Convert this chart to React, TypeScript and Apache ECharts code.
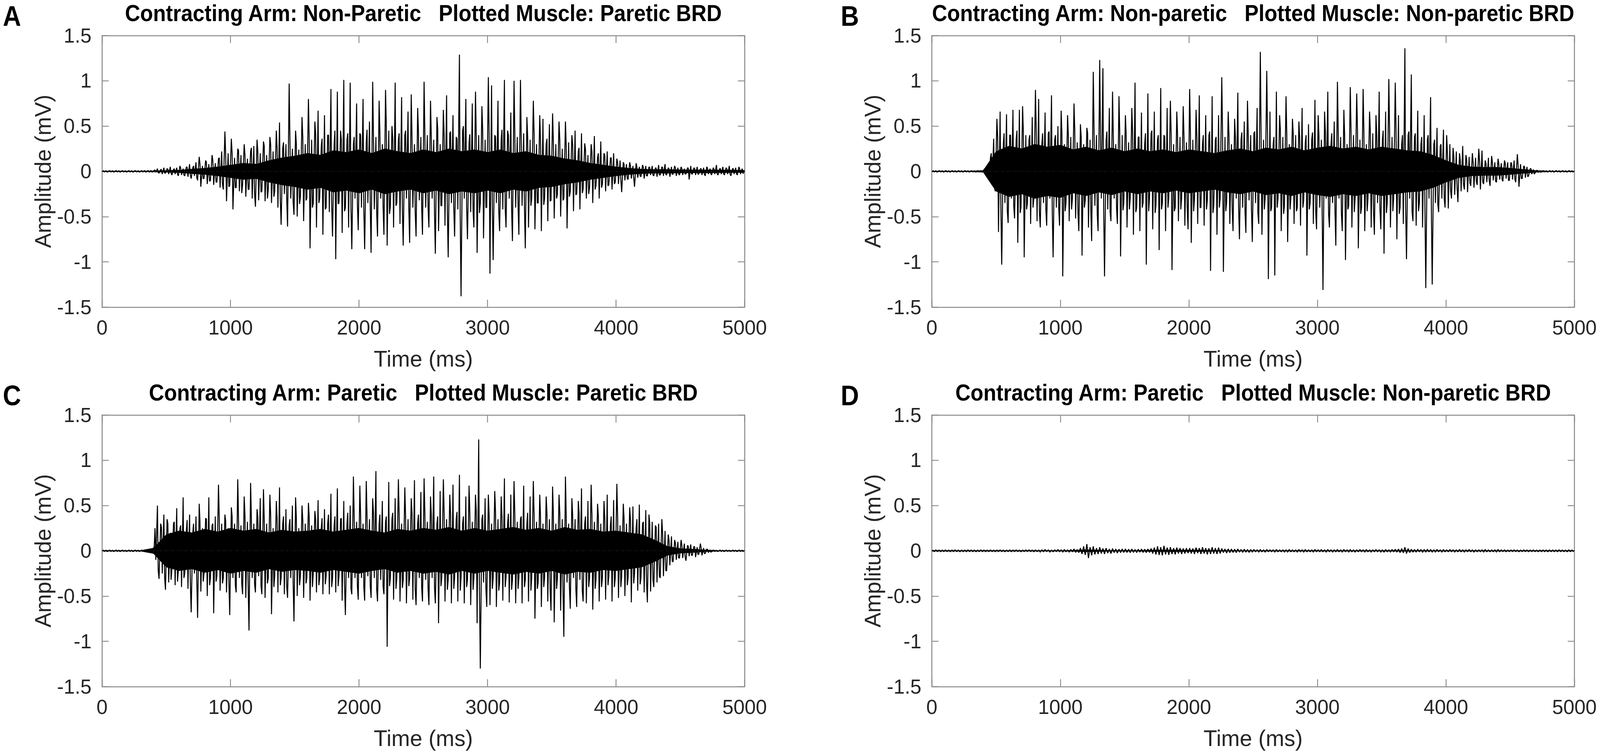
import React, { useEffect, useRef } from "react";
import * as echarts from "echarts";

// ---------------- DATA ----------------
// Primary spikes: largest positive / negative excursion in each 25 ms bin (200 bins, 0..4975 ms), mV
const BIN_MS = 25;
// Secondary spikes: a further (smaller) excursion in each 50 ms bin (100 bins), mV
const SEC_MS = 50;
// Dense-core amplitude every 100 ms (0..5000 ms), mV
const CORE_MS = 100;

const TITLES = [
  "Contracting Arm: Non-Paretic   Plotted Muscle: Paretic BRD",
  "Contracting Arm: Non-paretic   Plotted Muscle: Non-paretic BRD",
  "Contracting Arm: Paretic   Plotted Muscle: Paretic BRD",
  "Contracting Arm: Paretic   Plotted Muscle: Non-paretic BRD",
];
const LETTERS = ["A", "B", "C", "D"];
const X_NAME = "Time (ms)";
const Y_NAME = "Amplitude (mV)";

const A_UP = [
  0.008,0.008,0.008,0.008,0.008,0.008,0.008,0.008,0.008,0.008,
  0.008,0.008,0.008,0.010,0.008,0.010,0.012,0.030,0.020,0.040,
  0.030,0.050,0.020,0.040,0.060,0.030,0.050,0.080,0.040,0.100,
  0.160,0.060,0.120,0.080,0.180,0.090,0.140,0.220,0.440,0.200,
  0.360,0.150,0.250,0.180,0.300,0.140,0.220,0.280,0.350,0.200,
  0.330,0.180,0.380,0.220,0.450,0.540,0.260,0.300,0.970,0.250,
  0.450,0.240,0.600,0.300,0.800,0.350,0.550,0.670,0.280,0.620,
  0.400,0.910,0.300,0.880,0.450,1.010,0.350,0.980,0.300,0.750,
  0.420,0.800,0.320,0.550,0.990,0.380,0.780,0.300,0.900,0.450,
  0.500,0.980,0.350,0.820,0.400,0.660,0.850,0.300,0.700,0.380,
  0.990,0.400,0.780,0.350,0.600,0.300,0.680,0.840,0.420,0.620,
  0.380,1.290,0.450,0.800,0.320,0.750,0.880,0.400,0.720,0.350,
  1.040,0.950,0.400,0.780,0.350,1.010,0.450,0.650,1.000,0.380,
  1.010,0.420,0.600,0.350,0.780,0.300,0.620,0.580,0.300,0.520,
  0.640,0.300,0.550,0.250,0.550,0.320,0.400,0.450,0.220,0.420,
  0.310,0.180,0.300,0.390,0.150,0.330,0.200,0.220,0.150,0.200,
  0.140,0.120,0.100,0.080,0.100,0.060,0.090,0.050,0.070,0.060,
  0.050,0.060,0.040,0.070,0.050,0.080,0.040,0.050,0.060,0.040,
  0.050,0.030,0.040,0.060,0.040,0.050,0.030,0.040,0.050,0.030,
  0.040,0.070,0.030,0.050,0.040,0.060,0.030,0.040,0.050,0.030,
];
const A_DOWN = [
  -0.008,-0.008,-0.008,-0.008,-0.008,-0.008,-0.008,-0.008,-0.008,-0.008,
  -0.008,-0.008,-0.008,-0.008,-0.010,-0.008,-0.010,-0.020,-0.030,-0.020,
  -0.030,-0.040,-0.030,-0.050,-0.040,-0.050,-0.060,-0.080,-0.050,-0.100,
  -0.170,-0.080,-0.140,-0.100,-0.150,-0.120,-0.180,-0.200,-0.330,-0.160,
  -0.420,-0.180,-0.220,-0.150,-0.280,-0.200,-0.300,-0.390,-0.320,-0.220,
  -0.330,-0.200,-0.350,-0.220,-0.400,-0.590,-0.250,-0.610,-0.300,-0.480,
  -0.500,-0.280,-0.550,-0.300,-0.850,-0.350,-0.620,-0.300,-0.700,-0.400,
  -0.450,-0.720,-0.970,-0.350,-0.680,-0.400,-0.620,-0.860,-0.300,-0.650,
  -0.400,-0.860,-0.350,-0.900,-0.420,-0.720,-0.300,-0.700,-0.820,-0.380,
  -0.620,-0.350,-0.580,-0.820,-0.300,-0.790,-0.400,-0.720,-0.320,-0.700,
  -0.400,-0.620,-0.300,-0.910,-0.660,-0.380,-0.600,-0.950,-0.350,-0.720,
  -0.420,-1.380,-0.300,-0.750,-0.450,-0.620,-0.900,-0.350,-0.740,-0.400,
  -1.130,-0.980,-0.350,-0.660,-0.420,-0.620,-0.300,-0.770,-0.400,-0.700,
  -0.380,-0.850,-0.620,-0.300,-0.640,-0.350,-0.660,-0.300,-0.550,-0.320,
  -0.520,-0.250,-0.500,-0.300,-0.630,-0.220,-0.440,-0.250,-0.420,-0.200,
  -0.300,-0.180,-0.350,-0.160,-0.300,-0.140,-0.220,-0.150,-0.200,-0.120,
  -0.140,-0.230,-0.100,-0.090,-0.080,-0.170,-0.070,-0.060,-0.080,-0.050,
  -0.040,-0.050,-0.060,-0.040,-0.050,-0.040,-0.060,-0.030,-0.050,-0.040,
  -0.040,-0.030,-0.090,-0.030,-0.040,-0.030,-0.040,-0.050,-0.030,-0.040,
  -0.030,-0.040,-0.030,-0.040,-0.030,-0.050,-0.030,-0.040,-0.030,-0.020,
];
const A_UP2 = [
  0.006,0.006,0.006,0.006,0.006,0.006,0.006,0.006,0.015,0.020,
  0.025,0.030,0.035,0.045,0.060,0.080,0.100,0.120,0.150,0.180,
  0.200,0.230,0.180,0.260,0.220,0.280,0.300,0.260,0.320,0.350,
  0.300,0.380,0.340,0.420,0.360,0.400,0.450,0.350,0.420,0.380,
  0.400,0.460,0.380,0.430,0.500,0.360,0.420,0.450,0.380,0.440,
  0.420,0.380,0.470,0.400,0.440,0.360,0.500,0.410,0.380,0.450,
  0.430,0.380,0.460,0.400,0.420,0.350,0.380,0.420,0.340,0.360,
  0.320,0.350,0.280,0.300,0.260,0.240,0.220,0.200,0.180,0.150,
  0.100,0.080,0.060,0.050,0.045,0.040,0.035,0.040,0.030,0.035,
  0.030,0.035,0.028,0.030,0.032,0.025,0.030,0.028,0.030,0.025,
];
const A_DOWN2 = [
  -0.006,-0.006,-0.006,-0.006,-0.006,-0.006,-0.006,-0.006,-0.012,-0.018,
  -0.020,-0.030,-0.040,-0.040,-0.070,-0.080,-0.110,-0.120,-0.140,-0.170,
  -0.180,-0.240,-0.200,-0.250,-0.230,-0.300,-0.280,-0.320,-0.300,-0.340,
  -0.360,-0.320,-0.400,-0.350,-0.420,-0.380,-0.360,-0.440,-0.400,-0.370,
  -0.420,-0.380,-0.450,-0.400,-0.470,-0.380,-0.430,-0.400,-0.460,-0.390,
  -0.400,-0.460,-0.380,-0.440,-0.410,-0.480,-0.390,-0.430,-0.460,-0.400,
  -0.380,-0.440,-0.400,-0.420,-0.360,-0.400,-0.380,-0.350,-0.370,-0.330,
  -0.300,-0.320,-0.280,-0.260,-0.240,-0.250,-0.200,-0.180,-0.160,-0.140,
  -0.090,-0.080,-0.070,-0.050,-0.050,-0.040,-0.040,-0.035,-0.035,-0.030,
  -0.030,-0.028,-0.032,-0.030,-0.025,-0.030,-0.028,-0.030,-0.025,-0.022,
];
const A_CORE = [
  0.004,0.004,0.004,0.004,0.006,0.010,0.014,0.025,0.035,0.050,
  0.070,0.090,0.080,0.120,0.150,0.170,0.200,0.180,0.230,0.210,
  0.240,0.200,0.250,0.220,0.200,0.240,0.210,0.250,0.220,0.240,
  0.210,0.240,0.200,0.220,0.180,0.170,0.140,0.120,0.090,0.070,
  0.050,0.035,0.025,0.020,0.020,0.018,0.016,0.016,0.015,0.014,
  0.012,
];

const B_UP = [
  0.008,0.008,0.008,0.008,0.008,0.008,0.008,0.008,0.008,0.008,
  0.008,0.008,0.008,0.008,0.008,0.008,0.020,0.060,0.150,0.360,
  0.580,0.660,0.300,0.630,0.400,0.680,0.350,0.680,0.720,0.400,
  0.350,0.600,0.900,0.800,0.300,0.650,0.420,0.840,0.350,0.500,
  0.670,0.300,0.620,0.380,0.750,0.320,0.520,0.300,0.480,0.350,
  1.100,0.400,1.230,1.140,0.350,0.700,0.880,0.300,0.830,0.400,
  0.620,0.320,0.700,0.980,0.380,0.650,0.300,0.860,0.420,0.660,
  0.350,0.920,0.400,0.700,0.780,0.300,0.660,0.380,0.720,0.320,
  0.910,0.350,0.680,0.840,0.300,0.620,0.400,0.830,0.350,0.620,
  1.040,0.380,0.660,0.300,0.580,0.870,0.350,0.550,0.780,0.400,
  0.420,0.700,1.320,0.350,1.110,0.660,0.300,0.880,0.620,0.380,
  0.830,0.300,0.580,0.400,0.550,0.700,0.320,0.520,0.350,0.790,
  0.620,0.350,0.660,0.880,0.300,0.550,0.990,0.380,0.680,0.300,
  0.930,0.400,0.860,0.350,0.910,0.300,0.660,0.420,0.620,0.880,
  0.350,0.660,1.020,0.380,0.980,0.620,0.300,1.360,0.400,1.070,
  0.380,0.670,0.300,0.620,0.350,0.820,0.300,0.480,0.280,0.460,
  0.400,0.300,0.260,0.220,0.200,0.280,0.180,0.160,0.200,0.150,
  0.250,0.230,0.120,0.150,0.170,0.100,0.140,0.090,0.120,0.100,
  0.100,0.120,0.190,0.080,0.060,0.050,0.030,0.020,0.012,0.008,
  0.008,0.008,0.008,0.008,0.008,0.008,0.008,0.008,0.008,0.008,
];
const B_DOWN = [
  -0.008,-0.008,-0.008,-0.008,-0.008,-0.008,-0.008,-0.008,-0.008,-0.008,
  -0.008,-0.008,-0.008,-0.008,-0.008,-0.008,-0.030,-0.080,-0.150,-0.220,
  -0.670,-1.030,-0.350,-0.570,-0.300,-0.520,-0.790,-0.400,-0.950,-0.350,
  -0.580,-0.300,-0.550,-0.620,-0.350,-0.600,-0.300,-0.950,-0.400,-0.600,
  -1.160,-0.350,-0.550,-0.300,-0.520,-0.660,-0.930,-0.320,-0.620,-0.770,
  -0.380,-0.660,-0.300,-1.160,-0.420,-0.550,-0.300,-0.580,-0.940,-0.350,
  -0.620,-0.300,-0.700,-0.400,-0.660,-0.350,-1.030,-0.300,-0.640,-0.380,
  -0.870,-0.350,-0.660,-0.300,-1.090,-0.400,-0.550,-0.300,-0.600,-0.640,
  -0.790,-0.300,-0.580,-0.400,-0.600,-0.320,-1.100,-0.380,-0.700,-0.300,
  -1.110,-0.350,-0.580,-0.660,-0.300,-0.750,-0.400,-0.680,-0.320,-0.780,
  -0.350,-0.580,-0.700,-0.300,-1.190,-0.400,-1.150,-0.300,-0.660,-0.380,
  -0.780,-0.300,-0.580,-0.400,-0.600,-0.320,-0.930,-0.350,-0.580,-0.640,
  -0.400,-1.310,-0.300,-0.620,-0.350,-0.820,-0.300,-0.660,-0.980,-0.380,
  -0.620,-0.300,-0.850,-0.400,-0.660,-0.300,-0.620,-0.700,-0.350,-0.640,
  -0.910,-0.350,-0.620,-0.300,-0.750,-0.400,-0.580,-0.970,-0.300,-0.550,
  -0.600,-0.350,-0.620,-1.290,-0.300,-1.250,-0.350,-0.450,-0.300,-0.400,
  -0.410,-0.300,-0.260,-0.340,-0.220,-0.200,-0.230,-0.160,-0.180,-0.150,
  -0.200,-0.140,-0.120,-0.160,-0.100,-0.120,-0.090,-0.110,-0.080,-0.100,
  -0.090,-0.120,-0.170,-0.080,-0.070,-0.050,-0.030,-0.020,-0.012,-0.008,
  -0.008,-0.008,-0.008,-0.008,-0.008,-0.008,-0.008,-0.008,-0.008,-0.008,
];
const B_UP2 = [
  0.006,0.006,0.006,0.006,0.006,0.006,0.006,0.006,0.030,0.200,
  0.380,0.420,0.400,0.450,0.430,0.400,0.460,0.420,0.440,0.400,
  0.420,0.400,0.450,0.380,0.420,0.460,0.400,0.440,0.380,0.420,
  0.400,0.430,0.380,0.420,0.450,0.400,0.380,0.420,0.400,0.380,
  0.420,0.380,0.400,0.440,0.380,0.420,0.400,0.380,0.430,0.400,
  0.440,0.400,0.420,0.380,0.460,0.400,0.420,0.380,0.400,0.430,
  0.400,0.440,0.420,0.460,0.400,0.430,0.460,0.420,0.440,0.400,
  0.450,0.420,0.460,0.400,0.440,0.420,0.380,0.400,0.350,0.300,
  0.200,0.160,0.120,0.120,0.100,0.110,0.090,0.100,0.080,0.090,
  0.080,0.070,0.050,0.030,0.010,0.006,0.006,0.006,0.006,0.006,
];
const B_DOWN2 = [
  -0.006,-0.006,-0.006,-0.006,-0.006,-0.006,-0.006,-0.006,-0.030,-0.180,
  -0.400,-0.440,-0.380,-0.460,-0.420,-0.400,-0.450,-0.420,-0.460,-0.400,
  -0.440,-0.420,-0.460,-0.400,-0.440,-0.480,-0.420,-0.450,-0.400,-0.430,
  -0.420,-0.450,-0.400,-0.440,-0.460,-0.420,-0.400,-0.440,-0.420,-0.400,
  -0.440,-0.400,-0.420,-0.460,-0.400,-0.440,-0.420,-0.400,-0.450,-0.420,
  -0.460,-0.420,-0.440,-0.400,-0.470,-0.420,-0.440,-0.400,-0.420,-0.450,
  -0.420,-0.460,-0.440,-0.470,-0.420,-0.450,-0.470,-0.440,-0.450,-0.420,
  -0.460,-0.440,-0.470,-0.420,-0.450,-0.440,-0.400,-0.420,-0.360,-0.300,
  -0.220,-0.180,-0.140,-0.130,-0.110,-0.120,-0.100,-0.110,-0.090,-0.100,
  -0.090,-0.080,-0.060,-0.030,-0.010,-0.006,-0.006,-0.006,-0.006,-0.006,
];
const B_CORE = [
  0.004,0.004,0.004,0.004,0.010,0.220,0.280,0.250,0.300,0.270,
  0.290,0.240,0.270,0.230,0.260,0.220,0.250,0.220,0.240,0.210,
  0.240,0.220,0.200,0.230,0.250,0.220,0.260,0.240,0.270,0.230,
  0.260,0.280,0.250,0.270,0.240,0.270,0.250,0.230,0.220,0.180,
  0.120,0.070,0.050,0.045,0.045,0.035,0.022,0.010,0.004,0.004,
  0.004,
];

const C_UP = [
  0.008,0.008,0.008,0.008,0.008,0.008,0.008,0.008,0.008,0.008,
  0.008,0.008,0.008,0.008,0.008,0.008,0.050,0.500,0.300,0.400,
  0.350,0.200,0.300,0.470,0.250,0.590,0.220,0.400,0.200,0.380,
  0.520,0.250,0.360,0.590,0.280,0.380,0.730,0.300,0.400,0.250,
  0.480,0.300,0.790,0.280,0.600,0.320,0.750,0.300,0.460,0.580,
  0.680,0.300,0.620,0.250,0.550,0.700,0.300,0.460,0.280,0.500,
  0.590,0.250,0.500,0.300,0.530,0.280,0.440,0.560,0.250,0.460,
  0.300,0.630,0.280,0.690,0.350,0.550,0.300,0.500,0.820,0.320,
  0.720,0.300,0.770,0.350,0.580,0.880,0.300,0.550,0.320,0.760,
  0.350,0.580,0.790,0.300,0.700,0.350,0.580,0.780,0.300,0.650,
  0.800,0.320,0.600,0.820,0.300,0.660,0.790,0.350,0.620,0.730,
  0.350,0.840,0.300,0.600,0.720,0.320,0.620,1.230,0.350,0.580,
  0.620,0.300,0.660,0.350,0.600,0.800,0.300,0.620,0.770,0.320,
  0.350,0.720,0.300,0.600,0.770,0.320,0.620,0.300,0.600,0.350,
  0.710,0.300,0.620,0.350,0.820,0.300,0.580,0.350,0.550,0.690,
  0.300,0.550,0.730,0.320,0.520,0.300,0.550,0.620,0.280,0.560,
  0.740,0.280,0.520,0.300,0.480,0.490,0.250,0.510,0.300,0.450,
  0.400,0.320,0.280,0.300,0.350,0.220,0.180,0.160,0.120,0.100,
  0.120,0.080,0.060,0.070,0.050,0.040,0.080,0.030,0.020,0.010,
  0.008,0.008,0.008,0.008,0.008,0.008,0.008,0.008,0.008,0.008,
];
const C_DOWN = [
  -0.008,-0.008,-0.008,-0.008,-0.008,-0.008,-0.008,-0.008,-0.008,-0.008,
  -0.008,-0.008,-0.008,-0.008,-0.008,-0.008,-0.100,-0.310,-0.250,-0.430,
  -0.350,-0.200,-0.380,-0.220,-0.400,-0.250,-0.420,-0.680,-0.250,-0.740,
  -0.450,-0.250,-0.500,-0.300,-0.690,-0.280,-0.440,-0.300,-0.460,-0.710,
  -0.300,-0.460,-0.300,-0.480,-0.520,-0.880,-0.300,-0.460,-0.280,-0.480,
  -0.520,-0.300,-0.700,-0.280,-0.460,-0.300,-0.480,-0.520,-0.300,-0.780,
  -0.500,-0.280,-0.520,-0.300,-0.550,-0.250,-0.460,-0.300,-0.480,-0.280,
  -0.480,-0.300,-0.460,-0.280,-0.550,-0.710,-0.300,-0.480,-0.300,-0.540,
  -0.300,-0.550,-0.280,-0.520,-0.300,-0.560,-0.320,-0.480,-1.060,-0.300,
  -0.540,-0.300,-0.560,-0.320,-0.580,-0.300,-0.540,-0.600,-0.300,-0.560,
  -0.320,-0.600,-0.300,-0.580,-0.800,-0.300,-0.560,-0.320,-0.580,-0.300,
  -0.560,-0.300,-0.580,-0.320,-0.600,-0.300,-0.800,-1.300,-0.350,-0.620,
  -0.600,-0.300,-0.620,-0.350,-0.550,-0.300,-0.570,-0.320,-0.580,-0.300,
  -0.580,-0.320,-0.560,-0.300,-0.750,-0.350,-0.620,-0.300,-0.560,-0.660,
  -0.790,-0.300,-0.660,-0.950,-0.350,-0.640,-0.300,-0.620,-0.320,-0.560,
  -0.580,-0.300,-0.650,-0.320,-0.560,-0.300,-0.540,-0.280,-0.560,-0.300,
  -0.520,-0.280,-0.500,-0.300,-0.570,-0.250,-0.440,-0.300,-0.460,-0.570,
  -0.450,-0.400,-0.350,-0.300,-0.280,-0.220,-0.160,-0.120,-0.100,-0.080,
  -0.080,-0.110,-0.060,-0.050,-0.070,-0.040,-0.050,-0.030,-0.020,-0.010,
  -0.008,-0.008,-0.008,-0.008,-0.008,-0.008,-0.008,-0.008,-0.008,-0.008,
];
const C_UP2 = [
  0.006,0.006,0.006,0.006,0.006,0.006,0.006,0.006,0.250,0.260,
  0.300,0.320,0.280,0.340,0.300,0.320,0.350,0.300,0.360,0.330,
  0.380,0.340,0.400,0.360,0.380,0.350,0.400,0.360,0.380,0.350,
  0.360,0.340,0.380,0.350,0.360,0.400,0.380,0.360,0.420,0.380,
  0.400,0.380,0.420,0.400,0.380,0.420,0.400,0.380,0.420,0.400,
  0.420,0.400,0.380,0.420,0.400,0.430,0.380,0.420,0.440,0.400,
  0.400,0.420,0.380,0.410,0.400,0.380,0.420,0.400,0.380,0.420,
  0.400,0.420,0.380,0.400,0.420,0.380,0.400,0.380,0.360,0.380,
  0.380,0.360,0.340,0.350,0.320,0.300,0.260,0.200,0.120,0.080,
  0.060,0.050,0.040,0.030,0.015,0.006,0.006,0.006,0.006,0.006,
];
const C_DOWN2 = [
  -0.006,-0.006,-0.006,-0.006,-0.006,-0.006,-0.006,-0.006,-0.220,-0.300,
  -0.320,-0.340,-0.300,-0.360,-0.320,-0.340,-0.380,-0.340,-0.360,-0.350,
  -0.380,-0.360,-0.400,-0.370,-0.390,-0.360,-0.400,-0.380,-0.400,-0.360,
  -0.380,-0.360,-0.400,-0.380,-0.370,-0.400,-0.390,-0.380,-0.420,-0.390,
  -0.400,-0.390,-0.420,-0.400,-0.390,-0.420,-0.410,-0.390,-0.430,-0.400,
  -0.420,-0.410,-0.390,-0.430,-0.420,-0.440,-0.400,-0.430,-0.450,-0.420,
  -0.420,-0.440,-0.400,-0.430,-0.420,-0.400,-0.440,-0.420,-0.400,-0.440,
  -0.420,-0.440,-0.400,-0.420,-0.440,-0.400,-0.420,-0.400,-0.380,-0.400,
  -0.400,-0.380,-0.360,-0.370,-0.340,-0.320,-0.280,-0.220,-0.120,-0.080,
  -0.060,-0.050,-0.040,-0.030,-0.015,-0.006,-0.006,-0.006,-0.006,-0.006,
];
const C_CORE = [
  0.004,0.004,0.004,0.004,0.030,0.180,0.220,0.200,0.240,0.210,
  0.250,0.220,0.240,0.200,0.230,0.210,0.220,0.240,0.210,0.230,
  0.250,0.220,0.200,0.240,0.220,0.250,0.230,0.260,0.220,0.250,
  0.220,0.240,0.260,0.230,0.250,0.220,0.260,0.230,0.240,0.210,
  0.220,0.200,0.180,0.120,0.050,0.025,0.018,0.010,0.004,0.004,
  0.004,
];

const D_UP = [
  0.010,0.012,0.010,0.010,0.012,0.010,0.010,0.012,0.010,0.010,
  0.010,0.012,0.010,0.010,0.010,0.012,0.010,0.010,0.012,0.010,
  0.010,0.012,0.010,0.010,0.012,0.010,0.012,0.010,0.010,0.012,
  0.012,0.010,0.012,0.010,0.012,0.015,0.012,0.010,0.012,0.015,
  0.012,0.015,0.012,0.015,0.020,0.015,0.030,0.050,0.075,0.040,
  0.050,0.030,0.040,0.025,0.030,0.020,0.025,0.020,0.018,0.020,
  0.020,0.018,0.020,0.015,0.018,0.020,0.018,0.020,0.025,0.035,
  0.050,0.040,0.055,0.035,0.040,0.030,0.035,0.030,0.025,0.030,
  0.030,0.025,0.035,0.030,0.040,0.030,0.028,0.040,0.030,0.035,
  0.025,0.020,0.022,0.020,0.018,0.020,0.015,0.018,0.015,0.015,
  0.015,0.012,0.015,0.012,0.015,0.012,0.012,0.015,0.012,0.012,
  0.012,0.015,0.012,0.012,0.015,0.012,0.015,0.012,0.012,0.015,
  0.012,0.015,0.012,0.015,0.012,0.012,0.015,0.012,0.015,0.012,
  0.015,0.012,0.012,0.015,0.012,0.015,0.012,0.012,0.015,0.012,
  0.012,0.015,0.012,0.015,0.018,0.020,0.025,0.040,0.025,0.018,
  0.015,0.018,0.015,0.015,0.018,0.015,0.012,0.015,0.012,0.015,
  0.012,0.015,0.012,0.012,0.015,0.012,0.012,0.015,0.012,0.012,
  0.012,0.012,0.015,0.012,0.012,0.012,0.015,0.012,0.012,0.010,
  0.010,0.012,0.010,0.010,0.012,0.010,0.010,0.012,0.010,0.010,
  0.010,0.010,0.012,0.010,0.010,0.012,0.010,0.010,0.012,0.010,
];
const D_DOWN = [
  -0.010,-0.010,-0.012,-0.010,-0.010,-0.012,-0.010,-0.010,-0.012,-0.010,
  -0.012,-0.010,-0.010,-0.012,-0.010,-0.010,-0.012,-0.010,-0.010,-0.012,
  -0.010,-0.010,-0.012,-0.010,-0.012,-0.010,-0.010,-0.012,-0.010,-0.010,
  -0.010,-0.012,-0.010,-0.015,-0.012,-0.010,-0.015,-0.012,-0.010,-0.012,
  -0.015,-0.012,-0.015,-0.012,-0.018,-0.020,-0.035,-0.045,-0.080,-0.050,
  -0.040,-0.035,-0.030,-0.035,-0.025,-0.030,-0.020,-0.025,-0.020,-0.018,
  -0.018,-0.020,-0.018,-0.020,-0.015,-0.018,-0.020,-0.018,-0.030,-0.040,
  -0.045,-0.050,-0.040,-0.045,-0.035,-0.040,-0.030,-0.035,-0.030,-0.025,
  -0.030,-0.035,-0.025,-0.035,-0.030,-0.040,-0.035,-0.030,-0.035,-0.030,
  -0.020,-0.025,-0.020,-0.018,-0.020,-0.015,-0.018,-0.015,-0.018,-0.015,
  -0.012,-0.015,-0.012,-0.015,-0.012,-0.012,-0.015,-0.012,-0.012,-0.015,
  -0.015,-0.012,-0.012,-0.015,-0.012,-0.015,-0.012,-0.012,-0.015,-0.012,
  -0.012,-0.012,-0.015,-0.012,-0.015,-0.012,-0.012,-0.015,-0.012,-0.015,
  -0.012,-0.015,-0.012,-0.012,-0.015,-0.012,-0.015,-0.012,-0.012,-0.015,
  -0.015,-0.012,-0.015,-0.012,-0.015,-0.020,-0.022,-0.030,-0.020,-0.015,
  -0.015,-0.012,-0.018,-0.015,-0.012,-0.015,-0.015,-0.012,-0.015,-0.012,
  -0.012,-0.012,-0.015,-0.012,-0.012,-0.015,-0.012,-0.012,-0.015,-0.012,
  -0.012,-0.015,-0.012,-0.012,-0.012,-0.015,-0.012,-0.010,-0.012,-0.010,
  -0.010,-0.010,-0.012,-0.010,-0.010,-0.012,-0.010,-0.010,-0.012,-0.010,
  -0.010,-0.012,-0.010,-0.010,-0.012,-0.010,-0.010,-0.012,-0.010,-0.010,
];
const D_CORE = [
  0.004,0.004,0.004,0.004,0.004,0.004,0.004,0.004,0.004,0.004,
  0.004,0.006,0.012,0.008,0.005,0.005,0.005,0.008,0.010,0.010,
  0.008,0.008,0.006,0.005,0.004,0.004,0.004,0.004,0.004,0.004,
  0.004,0.004,0.004,0.004,0.004,0.004,0.005,0.006,0.004,0.004,
  0.004,0.004,0.004,0.004,0.004,0.004,0.004,0.004,0.004,0.004,
  0.004,
];

const SIGNALS: any[] = [
  { up: A_UP, down: A_DOWN, up2: A_UP2, down2: A_DOWN2, core: A_CORE },
  { up: B_UP, down: B_DOWN, up2: B_UP2, down2: B_DOWN2, core: B_CORE },
  { up: C_UP, down: C_DOWN, up2: C_UP2, down2: C_DOWN2, core: C_CORE },
  { up: D_UP, down: D_DOWN, up2: null, down2: null, core: D_CORE },
];

// ---------------- LAYOUT / STYLE (reference pixels, 4562 x 1932) ----------------
const REF_W = 4562;
const REF_H = 1932;
const PLOT_W = 1832;
const PLOT_H = 695;
const GRID_POS = [
  { left: 291, top: 91 },
  { left: 2657, top: 91 },
  { left: 291, top: 1062 },
  { left: 2657, top: 1062 },
];
const LETTER_X = [8, 2397, 8, 2397];
const FONT = "'Liberation Sans', Arial, Helvetica, sans-serif";
const AXIS_COLOR = "#8a8a8a";
const TEXT_COLOR = "#262626";

function buildOption(sx: number, sy: number) {
  const fs = (sx + sy) / 2;
  const grid: any[] = [];
  const xAxis: any[] = [];
  const yAxis: any[] = [];
  const series: any[] = [];
  const graphic: any[] = [];

  const lineStyle = { color: AXIS_COLOR, width: 2.7 * fs };
  const tickStyle = { color: AXIS_COLOR, width: 2.4 * fs };

  GRID_POS.forEach((p, k) => {
    grid.push({
      left: p.left * sx,
      top: p.top * sy,
      width: PLOT_W * sx,
      height: PLOT_H * sy,
      containLabel: false,
      outerBoundsMode: "none",
    });
    const xBase = {
      gridIndex: k,
      type: "value",
      min: 0,
      max: 5000,
      interval: 1000,
      splitLine: { show: false },
      axisLine: { show: true, onZero: false, lineStyle },
      axisTick: { show: true, inside: true, length: 19 * sy, lineStyle: tickStyle },
    };
    xAxis.push({
      ...xBase,
      position: "bottom",
      axisLabel: {
        show: true,
        fontSize: 54 * fs,
        color: TEXT_COLOR,
        fontFamily: FONT,
        margin: 27 * sy,
        formatter: (v: number) => String(v),
      },
      name: X_NAME,
      nameLocation: "middle",
      nameGap: 104 * sy,
      nameTextStyle: { fontSize: 60 * fs, color: TEXT_COLOR, fontFamily: FONT, lineHeight: 60 * fs },
    });
    xAxis.push({ ...xBase, position: "top", axisLabel: { show: false } });

    const yBase = {
      gridIndex: k,
      type: "value",
      min: -1.5,
      max: 1.5,
      interval: 0.5,
      splitLine: { show: false },
      axisLine: { show: true, onZero: false, lineStyle },
      axisTick: { show: true, inside: true, length: 19 * sx, lineStyle: tickStyle },
    };
    yAxis.push({
      ...yBase,
      position: "left",
      axisLabel: {
        show: true,
        fontSize: 54 * fs,
        color: TEXT_COLOR,
        fontFamily: FONT,
        margin: 30 * sx,
        formatter: (v: number) => String(v),
      },
      name: Y_NAME,
      nameLocation: "middle",
      nameGap: 137 * sx,
      nameRotate: 90,
      nameTextStyle: { fontSize: 60 * fs, color: TEXT_COLOR, fontFamily: FONT, lineHeight: 60 * fs },
    });
    yAxis.push({ ...yBase, position: "right", axisLabel: { show: false } });

    const sig = SIGNALS[k];
    const coreUp = sig.core.map((v: number, i: number) => [i * CORE_MS, v]);
    const coreDown = sig.core.map((v: number, i: number) => [i * CORE_MS, -v]);
    const trace: number[][] = [];
    sig.up.forEach((v: number, i: number) => {
      trace.push([i * BIN_MS + 6, v]);
      trace.push([i * BIN_MS + 18.5, sig.down[i]]);
    });
    if (sig.up2) {
      sig.up2.forEach((v: number, j: number) => {
        trace.push([j * SEC_MS + 12, v]);
        trace.push([j * SEC_MS + 37, sig.down2[j]]);
      });
    }
    trace.sort((a, b) => a[0] - b[0]);

    const common = {
      type: "line",
      xAxisIndex: 2 * k,
      yAxisIndex: 2 * k,
      symbol: "none",
      silent: true,
      clip: true,
      animation: false,
    };
    series.push({
      ...common,
      data: coreUp,
      lineStyle: { color: "#000", width: 1 },
      areaStyle: { color: "#000", opacity: 1, origin: 0 },
      z: 2,
    });
    series.push({
      ...common,
      data: coreDown,
      lineStyle: { color: "#000", width: 1 },
      areaStyle: { color: "#000", opacity: 1, origin: 0 },
      z: 2,
    });
    series.push({
      ...common,
      data: trace,
      lineStyle: { color: "#000", width: 2.7 * fs },
      z: 3,
    });

    const cx = (p.left + PLOT_W / 2) * sx;
    graphic.push({
      type: "text",
      x: cx,
      y: (p.top - 58) * sy,
      scaleX: sx / sy,
      scaleY: 1,
      style: {
        text: TITLES[k],
        fontSize: 60 * sy,
        lineHeight: 60 * sy,
        fontWeight: "bold",
        fontFamily: FONT,
        fill: "#000",
        align: "center",
        verticalAlign: "middle",
        textAlign: "center",
        textVerticalAlign: "middle",
      },
    });
    graphic.push({
      type: "text",
      x: LETTER_X[k] * sx,
      y: (p.top - 50) * sy,
      scaleX: sx / sy,
      scaleY: 1,
      style: {
        text: LETTERS[k],
        fontSize: 72 * sy,
        lineHeight: 72 * sy,
        fontWeight: "bold",
        fontFamily: FONT,
        fill: "#000",
        align: "left",
        verticalAlign: "middle",
        textAlign: "left",
        textVerticalAlign: "middle",
      },
    });
  });

  return {
    animation: false,
    backgroundColor: "#ffffff",
    grid,
    xAxis,
    yAxis,
    series,
    graphic,
  };
}

export default function App() {
  const ref = useRef<HTMLDivElement>(null);
  useEffect(() => {
    const el = ref.current;
    if (!el) return;
    const w = el.clientWidth || window.innerWidth || REF_W;
    const h = el.clientHeight || window.innerHeight || REF_H;
    const chart = echarts.init(el, undefined, { renderer: "svg" });
    chart.setOption(buildOption(w / REF_W, h / REF_H) as any);
    return () => chart.dispose();
  }, []);
  return (
    <div
      ref={ref}
      style={{ position: "fixed", left: 0, top: 0, width: "100vw", height: "100vh", background: "#fff" }}
    />
  );
}
